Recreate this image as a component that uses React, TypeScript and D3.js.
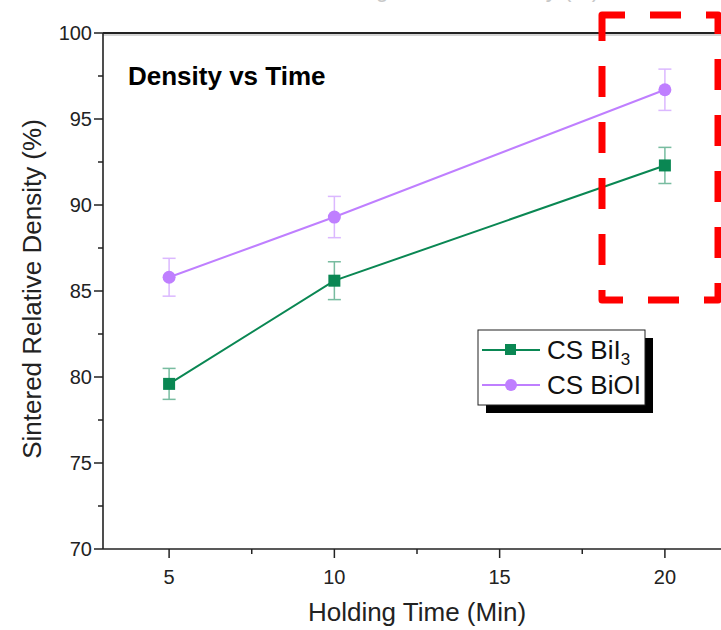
import React from "react";
import * as d3 from "d3";

const times = [5, 10, 20];
const bil3Values = [79.6, 85.6, 92.3];
const bil3Errors = [0.9, 1.1, 1.05];
const bioiValues = [85.8, 89.3, 96.7];
const bioiErrors = [1.1, 1.2, 1.2];
const xMajorTicks = [5, 10, 15, 20];
const xMinorTicks = [7.5, 12.5, 17.5];
const yMajorTicks = [70, 75, 80, 85, 90, 95, 100];
const yMinorTicks = [72.5, 77.5, 82.5, 87.5, 92.5, 97.5];

const GREEN = "#0a8753";
const PURPLE = "#bf7fff";
const FONT = "'Liberation Sans', Arial, sans-serif";

export default function App() {
  const W = 721, H = 630;
  const x = d3.scaleLinear().domain([3, 22]).range([103, 731]);
  const y = d3.scaleLinear().domain([70, 100]).range([549, 33]);
  const line = d3.line<[number, number]>().x(d => x(d[0])).y(d => y(d[1]));
  const bil3Pts: [number, number][] = times.map((t, i) => [t, bil3Values[i]]);
  const bioiPts: [number, number][] = times.map((t, i) => [t, bioiValues[i]]);

  const errBars = (vals: number[], errs: number[], color: string) =>
    times.map((t, i) => {
      const cx = x(t);
      const y1 = y(vals[i] + errs[i]);
      const y2 = y(vals[i] - errs[i]);
      return (
        <g key={i} stroke={color} strokeWidth={1.5} opacity={0.55}>
          <line x1={cx} x2={cx} y1={y1} y2={y2} />
          <line x1={cx - 6.5} x2={cx + 6.5} y1={y1} y2={y1} />
          <line x1={cx - 6.5} x2={cx + 6.5} y1={y2} y2={y2} />
        </g>
      );
    });

  const xAxisY = y(70);
  const yAxisX = x(3);

  return (
    <svg width={W} height={H} style={{ position: "absolute", left: 0, top: 0, background: "#fff" }} fontFamily={FONT}>
      <rect x={0} y={0} width={W} height={H} fill="#fff" />
      {/* clipped title fragment */}
      <text x={455} y={-3} textAnchor="middle" fontSize={23} fill="#c8c8c8">Holding Time vs Density (%)</text>

      {/* axes */}
      <line x1={yAxisX} x2={W} y1={y(100)} y2={y(100)} stroke="#222" strokeWidth={2} />
      <line x1={yAxisX} x2={W} y1={y(100) + 2} y2={y(100) + 2} stroke="#aaa" strokeWidth={1} />
      <line x1={yAxisX} x2={yAxisX} y1={y(100)} y2={xAxisY} stroke="#222" strokeWidth={1.6} />
      <line x1={yAxisX} x2={W} y1={xAxisY} y2={xAxisY} stroke="#222" strokeWidth={1.6} />

      {yMajorTicks.map(v => (
        <g key={"ym" + v}>
          <line x1={yAxisX - 9} x2={yAxisX} y1={y(v)} y2={y(v)} stroke="#222" strokeWidth={1.5} />
          <text x={yAxisX - 11} y={y(v)} dy="0.36em" textAnchor="end" fontSize={20} fill="#222">{v}</text>
        </g>
      ))}
      {yMinorTicks.map(v => (
        <line key={"yn" + v} x1={yAxisX - 5} x2={yAxisX} y1={y(v)} y2={y(v)} stroke="#222" strokeWidth={1.5} />
      ))}
      {xMajorTicks.map(v => (
        <g key={"xm" + v}>
          <line x1={x(v)} x2={x(v)} y1={xAxisY} y2={xAxisY + 9} stroke="#222" strokeWidth={1.5} />
          <text x={x(v)} y={xAxisY + 35} textAnchor="middle" fontSize={20} fill="#222">{v}</text>
        </g>
      ))}
      {xMinorTicks.map(v => (
        <line key={"xn" + v} x1={x(v)} x2={x(v)} y1={xAxisY} y2={xAxisY + 5} stroke="#222" strokeWidth={1.5} />
      ))}

      <text x={417} y={621} textAnchor="middle" fontSize={26} fill="#222">Holding Time (Min)</text>
      <text transform={`translate(41,289) rotate(-90)`} textAnchor="middle" fontSize={26} fill="#222">Sintered Relative Density (%)</text>

      <text x={128} y={85} fontSize={26} fontWeight="bold" fill="#000">Density vs Time</text>

      {/* series */}
      {errBars(bioiValues, bioiErrors, PURPLE)}
      {errBars(bil3Values, bil3Errors, GREEN)}
      <path d={line(bioiPts) || ""} fill="none" stroke={PURPLE} strokeWidth={2} />
      <path d={line(bil3Pts) || ""} fill="none" stroke={GREEN} strokeWidth={2} />
      {bioiPts.map((p, i) => (
        <circle key={"c" + i} cx={x(p[0])} cy={y(p[1])} r={6.5} fill={PURPLE} />
      ))}
      {bil3Pts.map((p, i) => (
        <rect key={"s" + i} x={x(p[0]) - 6} y={y(p[1]) - 6} width={12} height={12} fill={GREEN} />
      ))}

      {/* legend */}
      <rect x={486} y={338} width={167} height={75} fill="#000" />
      <rect x={478} y={330} width={167} height={75} fill="#fff" stroke="#222" strokeWidth={1} />
      <line x1={482} x2={540} y1={350} y2={350} stroke={GREEN} strokeWidth={2} />
      <rect x={505} y={344} width={11} height={11} fill={GREEN} />
      <text x={547} y={359} fontSize={26} fill="#111">CS BiI<tspan fontSize={17} dy={6}>3</tspan></text>
      <line x1={482} x2={540} y1={385} y2={385} stroke={PURPLE} strokeWidth={2} />
      <circle cx={511} cy={385} r={6} fill={PURPLE} />
      <text x={547} y={394} fontSize={26} fill="#111">CS BiOI</text>

      {/* red dashed highlight */}
      <path d="M602,23 L602,15 L718,15 L718,300 L602,300 Z" fill="none" stroke="#ff0000" strokeWidth={7}
        strokeDasharray="31 25" strokeLinejoin="round" />
    </svg>
  );
}
